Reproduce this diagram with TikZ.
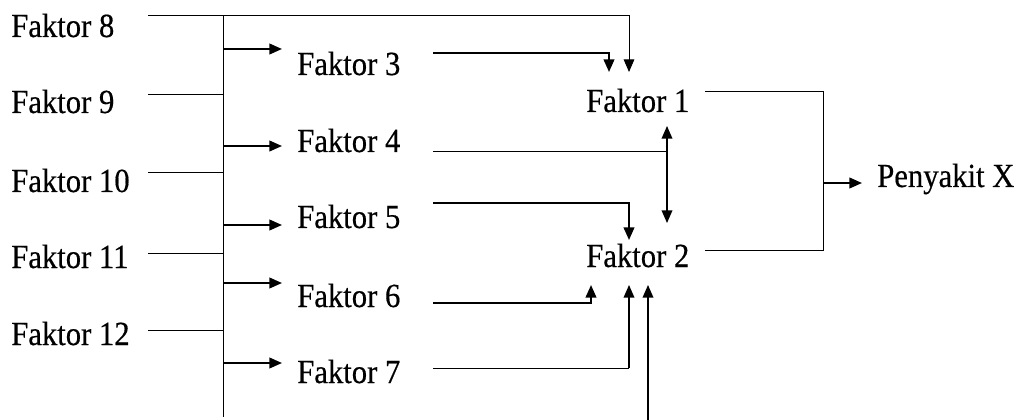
\documentclass[tikz,border=0pt]{standalone}
\usepackage{fontspec}
\setmainfont[FakeBold=0.5,AutoFakeBold=0.5]{Liberation Serif}
\usetikzlibrary{arrows.meta}
\newcommand{\tallt}[1]{\scalebox{1}[1.1]{\bfseries #1}}
\begin{document}
\begin{tikzpicture}[x=0.75pt,y=-0.75pt,
  lbl/.style={inner sep=0pt, anchor=base west, font=\fontsize{23}{27}\selectfont},
  thinln/.style={line width=0.75pt},
  thickln/.style={line width=1.5pt},
  medln/.style={line width=1.1pt},
  arr/.style={-{Triangle[length=9.5pt,width=8pt]}},
  darr/.style={{Triangle[length=9.5pt,width=8pt]}-{Triangle[length=9.5pt,width=8pt]}}]
\useasboundingbox (0,0) rectangle (1023,420);
% labels
\node[lbl] (f8) at (11,37) {\tallt{Faktor 8}};
\node[lbl] (f9) at (11,113) {\tallt{Faktor 9}};
\node[lbl] (f10) at (11,192) {\tallt{Faktor 10}};
\node[lbl] (f11) at (11,268) {\tallt{Faktor 11}};
\node[lbl] (f12) at (11,345) {\tallt{Faktor 12}};
\node[lbl] (f3) at (297,75) {\tallt{Faktor 3}};
\node[lbl] (f4) at (297,152) {\tallt{Faktor 4}};
\node[lbl] (f5) at (297,228) {\tallt{Faktor 5}};
\node[lbl] (f6) at (297,307) {\tallt{Faktor 6}};
\node[lbl] (f7) at (297,383) {\tallt{Faktor 7}};
\node[lbl] (f1) at (586,112) {\tallt{Faktor 1}};
\node[lbl] (f2) at (586,267) {\tallt{Faktor 2}};
\node[lbl] (px) at (877,187) {\tallt{Penyakit X}};
% coordinates
\coordinate (b8) at (148,16);
\coordinate (b9) at (148,95);
\coordinate (b10) at (148,173);
\coordinate (b11) at (148,253);
\coordinate (b12) at (148,330);
\coordinate (bustop) at (223,16);
\coordinate (busbot) at (223,417);
\coordinate (t3) at (282,49);
\coordinate (t4) at (282,146);
\coordinate (t5) at (282,225);
\coordinate (t6) at (282,283);
\coordinate (t7) at (282,363);
\coordinate (s3) at (433,53);
\coordinate (s4) at (433,152);
\coordinate (s5) at (433,203);
\coordinate (s6) at (433,303);
\coordinate (s7) at (433,368);
\coordinate (in1a) at (609,72);
\coordinate (in1b) at (629,72);
\coordinate (dtop) at (667,126);
\coordinate (dbot) at (667,223);
\coordinate (in2a) at (629,240);
\coordinate (in2b) at (591,285);
\coordinate (in2c) at (629,285);
\coordinate (in2d) at (648,285);
\coordinate (ext) at (648,420);
\coordinate (o1) at (705,92);
\coordinate (o2) at (705,250);
\coordinate (jx) at (823,183);
\coordinate (tx) at (862,183);
% left inputs and bus
\draw[thinln,arr] (b8) -- (b8 -| in1b) -- (in1b);
\draw[thinln] (bustop) -- (busbot);
\foreach \c in {b9,b10,b11,b12} \draw[thinln] (\c) -- (\c -| bustop);
\foreach \c in {t3,t4,t5,t6,t7} \draw[thickln,arr] (\c -| bustop) -- (\c);
% middle to Faktor 1 / Faktor 2
\draw[thickln,arr] (s3) -- (s3 -| in1a) -- (in1a);
\draw[thinln] (s4) -- (s4 -| dtop);
\draw[medln,darr] (dtop) -- (dbot);
\draw[thickln,arr] (s5) -- (s5 -| in2a) -- (in2a);
\draw[thickln,arr] (s6) -- (s6 -| in2b) -- (in2b);
\draw[thinln] (s7) -- (s7 -| in2c);
\draw[medln,arr] (s7 -| in2c) -- (in2c);
\draw[medln,arr] (ext) -- (in2d);
% outputs
\draw[thinln] (o1) -- (o1 -| jx) -- (o2 -| jx) -- (o2);
\draw[thickln,arr] (jx) -- (tx);
\end{tikzpicture}
\end{document}
